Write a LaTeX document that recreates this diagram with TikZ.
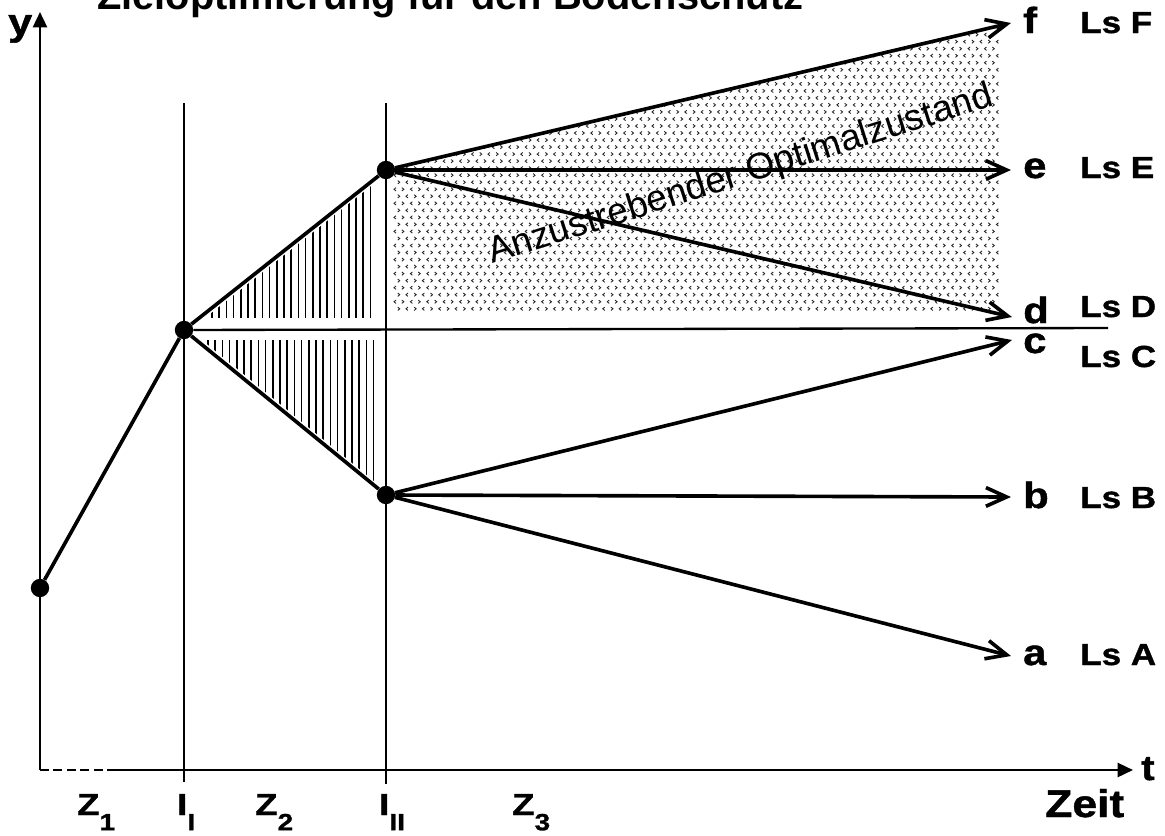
\documentclass[tikz,border=0pt]{standalone}
\usepackage{fontspec}
\setmainfont{Liberation Sans}
\newfontfamily\lsfont[FakeStretch=1.15,BoldFeatures={FakeBold=1.2}]{Liberation Sans}
\newfontfamily\axfont[FakeStretch=1.2,BoldFeatures={FakeBold=1.2}]{Liberation Sans}
\usetikzlibrary{arrows.meta,patterns}
\pgfdeclarepatternformonly{chevrons}{\pgfqpoint{-1pt}{-2pt}}{\pgfqpoint{14pt}{8pt}}{\pgfqpoint{14pt}{12pt}}{%
  \pgfsetlinewidth{0.75pt}%
  \pgfpathmoveto{\pgfqpoint{2pt}{1.4pt}}\pgfpathlineto{\pgfqpoint{0.3pt}{0pt}}\pgfpathlineto{\pgfqpoint{2pt}{-1.4pt}}%
  \pgfpathmoveto{\pgfqpoint{7pt}{1.4pt}}\pgfpathlineto{\pgfqpoint{8.7pt}{0pt}}\pgfpathlineto{\pgfqpoint{7pt}{-1.4pt}}%
  \pgfpathmoveto{\pgfqpoint{3.5pt}{7.4pt}}\pgfpathlineto{\pgfqpoint{5.2pt}{6pt}}\pgfpathlineto{\pgfqpoint{3.5pt}{4.6pt}}%
  \pgfpathmoveto{\pgfqpoint{12.2pt}{7.4pt}}\pgfpathlineto{\pgfqpoint{10.5pt}{6pt}}\pgfpathlineto{\pgfqpoint{12.2pt}{4.6pt}}%
  \pgfusepath{stroke}}
\newcommand{\zsub}[1]{\raisebox{-13pt}{\fontsize{20}{20}\selectfont #1}}

\begin{document}
\begin{tikzpicture}[x=0.03cm,y=-0.03cm,>={Straight Barb[length=0.62cm,width=0.56cm]}]
  \tikzstyle{pt}=[circle,fill,inner sep=0pt,minimum size=0.55cm]
  \tikzstyle{trajline}=[line width=3.1pt]
  \tikzstyle{guide}=[line width=2pt]
  \tikzstyle{axisline}=[line width=2.1pt]
  \tikzstyle{hatch}=[line width=1.4pt]
  \tikzstyle{axtip}=[-{Triangle[length=0.46cm,width=0.42cm]}]
  \tikzstyle{letter}=[anchor=base west,inner sep=0pt,font=\lsfont\fontsize{31}{31}\selectfont\bfseries]
  \tikzstyle{lslbl}=[anchor=base west,inner sep=0pt,font=\lsfont\fontsize{26}{26}\selectfont\bfseries]
  \tikzstyle{axlbl}=[anchor=base west,inner sep=0pt,font=\axfont\fontsize{26}{26}\selectfont\bfseries]
  \useasboundingbox (0,0) rectangle (1165,836);
  \node[anchor=base west,inner sep=0pt,font=\fontsize{34}{34}\selectfont\bfseries] (title) at (97,9) {Zieloptimierung für den Bodenschutz};
  \fill[pattern=chevrons,pattern color=black!85] (392,168) -- (1000,27) -- (1000,312) -- (392,312) -- cycle;
  \begin{scope}
    \clip (205,318) -- (385,175) -- (385,318) -- cycle;
    \foreach \i in {0,...,22}
      \draw[hatch] (212+7.2*\i,160) -- (212+7.2*\i,318);
  \end{scope}
  \begin{scope}
    \clip (202,340) -- (385,340) -- (385,490) -- cycle;
    \foreach \i in {0,...,23}
      \draw[hatch] (208+7.2*\i,340) -- (208+7.2*\i,500);
  \end{scope}
  \coordinate (orig) at (40,770);
  \coordinate (ytip) at (40,12);
  \coordinate (dashend) at (113,770);
  \coordinate (ttip) at (1133,770);
  \draw[axisline,axtip] (orig) -- (ytip);
  \draw[axisline,dash pattern=on 7.5pt off 4pt] (orig) -- (dashend);
  \draw[axisline,axtip] (dashend) -- (ttip);
  \coordinate (g1top) at (184,103);
  \coordinate (g1bot) at (184,782);
  \coordinate (g2top) at (386,103);
  \coordinate (g2bot) at (386,784);
  \draw[guide] (g1top) -- (g1bot);
  \draw[guide] (g2top) -- (g2bot);
  \node[pt] (s0) at (40,588) {};
  \node[pt] (p1) at (184,330) {};
  \node[pt] (p2) at (386,170) {};
  \node[pt] (p3) at (386,495) {};
  \coordinate (hend) at (1108,328);
  \draw[guide] (p1) -- (hend);
  \draw[trajline] (s0) -- (p1) -- (p2);
  \draw[trajline] (p1) -- (p3);
  \coordinate (fend) at (1011,23);
  \coordinate (eend) at (1011,170);
  \coordinate (dend) at (1012,317);
  \coordinate (cend) at (1012,340);
  \coordinate (bend) at (1011,497);
  \coordinate (aend) at (1011,656);
  \draw[trajline,->] (p2) -- (fend);
  \draw[trajline,->] (p2) -- (eend);
  \draw[trajline,->] (p2) -- (dend);
  \draw[trajline,->] (p3) -- (cend);
  \draw[trajline,->] (p3) -- (bend);
  \draw[trajline,->] (p3) -- (aend);
  \node[letter] (lf) at (1023,33) {f};
  \node[letter] (le) at (1023,178) {e};
  \node[letter] (ld) at (1023,323) {d};
  \node[letter] (lc) at (1023,353) {c};
  \node[letter] (lb) at (1023,508) {b};
  \node[letter] (la) at (1023,665) {a};
  \node[lslbl] (lsf) at (1080,33) {Ls F};
  \node[lslbl] (lse) at (1080,178) {Ls E};
  \node[lslbl] (lsd) at (1080,317) {Ls D};
  \node[lslbl] (lsc) at (1080,367) {Ls C};
  \node[lslbl] (lsb) at (1080,508) {Ls B};
  \node[lslbl] (lsa) at (1080,665) {Ls A};
  \node[anchor=base west,rotate=17.5,inner sep=0pt,font=\fontsize{31.5}{31.5}\selectfont] (opt) at (492,264) {Anzustrebender Optimalzustand};
  \node[anchor=base west,inner sep=0pt,font=\lsfont\fontsize{32}{32}\selectfont\bfseries] (ylbl) at (8,35) {y};
  \node[anchor=base west,inner sep=0pt,font=\lsfont\fontsize{30}{30}\selectfont\bfseries] (tlbl) at (1141,780) {t};
  \node[anchor=base west,inner sep=0pt,font=\lsfont\fontsize{33}{33}\selectfont\bfseries] (zeit) at (1045,817) {Zeit};
  \node[axlbl] (z1) at (77,815) {Z\zsub{1}};
  \node[axlbl] (i1) at (177,815) {I\zsub{I}};
  \node[axlbl] (z2) at (255,815) {Z\zsub{2}};
  \node[axlbl] (i2) at (379,815) {I\zsub{II}};
  \node[axlbl] (z3) at (512,815) {Z\zsub{3}};
\end{tikzpicture}
\end{document}
